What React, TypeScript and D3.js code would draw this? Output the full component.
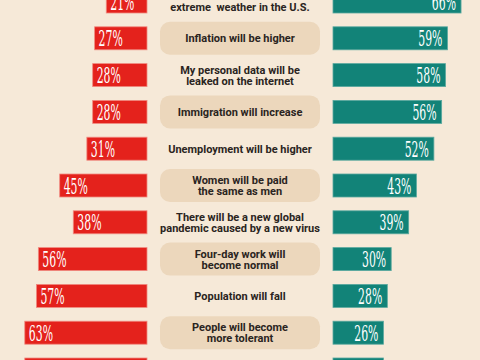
import React from "react";
import * as d3 from "d3";

const labels: string[][] = [
  ["There will be more", "extreme  weather in the U.S."],
  ["Inflation will be higher"],
  ["My personal data will be", "leaked on the internet"],
  ["Immigration will increase"],
  ["Unemployment will be higher"],
  ["Women will be paid", "the same as men"],
  ["There will be a new global", "pandemic caused by a new virus"],
  ["Four-day work will", "become normal"],
  ["Population will fall"],
  ["People will become", "more tolerant"],
  ["There will be a recession", "in the next year"],
];
const leftValues = [21, 27, 28, 28, 31, 45, 38, 56, 57, 63, 63];
const rightValues = [66, 59, 58, 56, 52, 43, 39, 30, 28, 26, 26];

const W = 480;
const H = 360;
const BG = "#f6e9d8";
const PILL = "#ecd7bc";
const RED = "#e4221c";
const TEAL = "#128378";
const TEXT = "#2a2421";

export default function App() {
  const idx = labels.map((_, i) => i);
  const step = 36.8;
  const c0 = 1.5;
  const y = d3
    .scaleBand<number>()
    .domain(idx)
    .range([c0 - step / 2, c0 - step / 2 + step * idx.length])
    .paddingInner(0);
  const x = d3.scaleLinear().domain([0, 100]).range([0, 194]);
  const leftZero = 147;
  const rightZero = 333;
  const barH = 23;
  const pctFont = "'DejaVu Serif Condensed', 'DejaVu Serif', serif";
  const labFont = "Roboto, 'Open Sans', sans-serif";

  return (
    <svg
      width={W}
      height={H}
      style={{ position: "absolute", left: 0, top: 0, display: "block" }}
    >
      <rect x={0} y={0} width={W} height={H} fill={BG} />
      {idx.map((i) => {
        const cy = (y(i) as number) + y.bandwidth() / 2;
        const lv = leftValues[i];
        const rv = rightValues[i];
        const lw = x(lv);
        const rw = x(rv);
        const lines = labels[i];
        const lh = 11.2;
        const firstY = cy - ((lines.length - 1) * lh) / 2;
        return (
          <g key={i}>
            {i % 2 === 1 && (
              <rect
                x={160}
                y={cy - 16.5}
                width={160}
                height={33}
                rx={10}
                fill={PILL}
              />
            )}
            <rect
              x={leftZero - lw}
              y={cy - barH / 2}
              width={lw}
              height={barH}
              fill={RED}
              stroke="#f08a80"
              strokeWidth={0.8}
            />
            <rect
              x={rightZero}
              y={cy - barH / 2}
              width={rw}
              height={barH}
              fill={TEAL}
              stroke="#5aa99f"
              strokeWidth={0.8}
            />
            <text
              transform={`translate(${leftZero - lw + 4},${cy + 8}) scale(0.55,1)`}
              fontFamily={pctFont}
              fontSize={22}
              fill="#fff"
              textAnchor="start"
            >
              {lv}%
            </text>
            <text
              transform={`translate(${rightZero + rw - 5},${cy + 8}) scale(0.55,1)`}
              fontFamily={pctFont}
              fontSize={22}
              fill="#fff"
              textAnchor="end"
            >
              {rv}%
            </text>
            <text
              fontFamily={labFont}
              fontWeight={700}
              fontSize={11}
              fill={TEXT}
              textAnchor="middle"
              style={{ whiteSpace: "pre" }}
            >
              {lines.map((ln, k) => (
                <tspan key={k} x={240} y={firstY + k * lh + 4}>
                  {ln}
                </tspan>
              ))}
            </text>
          </g>
        );
      })}
    </svg>
  );
}
